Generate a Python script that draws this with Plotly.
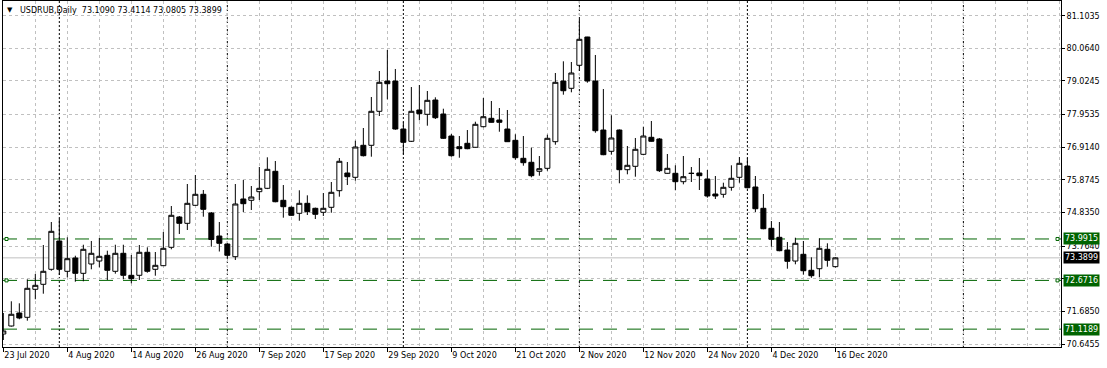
import numpy as np
import pandas as pd
import plotly.graph_objects as go

# ---------------- data ----------------
dates = pd.bdate_range("2020-07-23", "2020-12-16")

opens = [70.964, 71.219, 71.633, 71.496, 72.388, 72.547, 73.025, 73.927, 72.961, 73.385,
         72.897, 73.194, 73.289, 73.471, 72.961, 73.535, 72.834, 72.834, 73.567, 73.025,
         73.140, 73.726, 74.691, 74.490, 75.064, 75.414, 74.819, 74.086, 73.831, 73.427,
         75.265, 75.223, 75.497, 75.605, 76.147, 75.223, 75.000, 74.809, 75.127, 74.968,
         74.841, 75.000, 75.529, 76.093, 75.956, 76.975, 76.975, 78.058, 79.023, 79.023,
         77.494, 77.103, 78.100, 77.962, 78.418, 77.972, 77.271, 76.930, 77.039, 76.912,
         77.568, 77.835, 77.781, 77.494, 77.134, 76.561, 76.434, 76.147, 76.242, 77.090,
         79.023, 78.791, 79.524, 80.425, 79.023, 77.462, 76.784, 77.462, 76.198, 76.306,
         76.688, 77.230, 77.176, 76.083, 76.083, 75.816, 76.083, 76.093, 75.902, 75.424,
         75.414, 75.637, 75.956, 76.316, 75.647, 74.968, 74.331, 74.044, 73.640, 73.289,
         73.503, 72.993, 73.044, 73.662, 73.1090]
highs = [71.633, 72.006, 71.942, 72.706, 72.875, 73.799, 74.532, 74.637, 74.044, 73.458,
         73.808, 73.927, 74.022, 73.618, 73.808, 73.808, 73.481, 73.799, 73.726, 73.576,
         74.214, 75.041, 74.723, 75.742, 76.029, 75.551, 74.850, 74.532, 73.860, 75.742,
         75.870, 75.678, 76.284, 76.593, 76.475, 75.710, 75.030, 75.542, 75.382, 74.990,
         75.455, 75.806, 76.570, 76.443, 77.122, 77.526, 78.514, 79.342, 80.011, 79.406,
         77.708, 78.832, 78.896, 78.705, 78.504, 78.141, 77.335, 77.271, 77.462, 77.727,
         78.482, 78.386, 78.163, 78.100, 77.326, 77.271, 76.899, 76.634, 77.313, 79.278,
         79.651, 79.629, 80.998, 80.430, 79.852, 78.768, 77.931, 77.480, 76.953, 77.208,
         77.568, 77.749, 77.208, 76.698, 76.338, 76.634, 76.284, 76.570, 76.188, 75.997,
         75.784, 76.338, 76.602, 76.561, 75.997, 75.424, 74.563, 74.532, 73.895, 74.031,
         73.927, 73.407, 74.012, 73.853, 73.4114]
lows = [70.773, 71.200, 71.433, 71.388, 72.070, 72.248, 72.980, 72.843, 72.770, 72.630,
        72.643, 73.025, 73.089, 72.684, 72.885, 72.706, 72.579, 72.684, 72.917, 72.821,
        73.131, 73.662, 74.150, 74.277, 75.050, 74.701, 73.745, 73.592, 73.369, 73.321,
        74.850, 74.914, 75.233, 75.580, 75.160, 74.669, 74.730, 74.573, 74.755, 74.627,
        74.723, 74.828, 75.338, 75.710, 75.847, 76.620, 76.612, 77.908, 78.440, 77.470,
        76.688, 77.080, 77.772, 77.600, 77.813, 77.176, 76.612, 76.580, 76.850, 76.900,
        77.549, 77.700, 77.408, 77.080, 76.516, 76.325, 75.956, 76.007, 76.166, 76.994,
        78.587, 78.663, 79.351, 78.969, 77.376, 76.660, 76.676, 75.765, 76.051, 75.975,
        76.660, 77.090, 76.125, 76.070, 75.542, 75.733, 75.806, 75.551, 75.306, 75.265,
        75.306, 75.529, 75.784, 75.600, 74.850, 74.300, 73.745, 73.600, 73.044, 73.184,
        72.853, 72.757, 72.770, 73.108, 73.0805]
closes = [71.060, 71.592, 71.474, 72.420, 72.515, 72.961, 74.235, 73.025, 73.363, 72.897,
          73.662, 73.535, 73.439, 72.993, 73.535, 72.834, 72.726, 73.567, 72.961, 73.152,
          73.694, 74.745, 74.490, 75.127, 75.414, 74.936, 73.974, 73.853, 73.471, 75.105,
          75.115, 75.328, 75.605, 76.210, 75.178, 75.019, 74.745, 75.127, 74.860, 74.777,
          74.968, 75.478, 76.466, 75.975, 76.921, 76.644, 78.058, 78.982, 78.937, 77.494,
          77.071, 78.058, 77.982, 78.408, 77.854, 77.198, 76.644, 76.867, 76.867, 77.644,
          77.886, 77.708, 77.708, 77.090, 76.580, 76.421, 76.007, 76.230, 77.198, 78.982,
          78.714, 79.278, 80.352, 79.023, 77.440, 76.676, 77.208, 76.198, 76.338, 76.848,
          77.271, 77.103, 76.166, 76.242, 75.816, 75.975, 76.080, 76.007, 75.360, 75.360,
          75.637, 75.924, 76.402, 75.624, 74.955, 74.318, 73.981, 73.618, 73.280, 73.853,
          72.980, 72.821, 73.694, 73.312, 73.3899]

level_lines = [73.9915, 72.6716, 71.1189]      # green horizontal lines
anchored_levels = [73.9915, 72.6716]            # lines showing anchor squares
bid_price = 73.3899

y_tick_values = [81.1035, 80.0640, 79.0245, 77.9535, 76.9140, 75.8745, 74.8350,
                 73.7640, 72.7245, 71.6850, 70.6455]
y_tick_labels = ["81.1035", "80.0640", "79.0245", "77.9535", "76.9140", "75.8745",
                 "74.8350", "73.7640", "", "71.6850", "70.6455"]

future_separator_bar = 120
label_step = 8
grid_step = 4

symbol_header = "USDRUB,Daily"

# ---------------- derived ----------------
x = np.arange(len(dates))
label_idx = list(range(0, len(dates), label_step))
label_text = [f"{dates[i].day} {dates[i]:%b %Y}" for i in label_idx]
separators = [i for i in range(1, len(dates)) if dates[i].month != dates[i - 1].month]
separators.append(future_separator_bar)

FONT = "DejaVu Sans"
GREEN = "#006400"
GRID = "#c0c0c0"

fig = go.Figure()
fig.add_trace(go.Candlestick(
    x=x, open=opens, high=highs, low=lows, close=closes,
    increasing=dict(line=dict(color="black", width=1), fillcolor="white"),
    decreasing=dict(line=dict(color="black", width=1), fillcolor="black"),
    whiskerwidth=0, hoverinfo="skip", showlegend=False,
))

shapes = []
for s in separators:
    shapes.append(dict(type="line", xref="x", yref="paper", x0=s, x1=s, y0=0, y1=1,
                       line=dict(color="black", width=1, dash="2px,2px"), layer="between"))
shapes.append(dict(type="line", xref="paper", yref="y", x0=0, x1=1, y0=bid_price, y1=bid_price,
                   line=dict(color=GRID, width=1), layer="between"))
for lv in level_lines:
    shapes.append(dict(type="line", xref="paper", yref="y", x0=0, x1=1, y0=lv, y1=lv,
                       line=dict(color=GREEN, width=1, dash="14px,10px"), layer="between"))
for lv in anchored_levels:
    for xa, off in [(0, 2), (1, -5)]:
        shapes.append(dict(type="rect", xref="paper", yref="y", xsizemode="pixel", ysizemode="pixel",
                           xanchor=xa, yanchor=lv, x0=off, x1=off + 3, y0=-1.5, y1=1.5,
                           line=dict(color=GREEN, width=1), fillcolor="white", layer="above"))

annotations = [
    dict(xref="paper", yref="paper", x=0, y=1, xanchor="left", yanchor="top", xshift=2, yshift=-3,
         text="▼", showarrow=False, font=dict(family=FONT, size=7, color="black")),
    dict(xref="paper", yref="paper", x=0, y=1, xanchor="left", yanchor="top", xshift=15, yshift=-3,
         text=symbol_header + "\u00a0\u00a0" + " ".join(f"{v:.4f}" for v in
              [opens[-1], highs[-1], lows[-1], closes[-1]]),
         showarrow=False, font=dict(family=FONT, size=8, color="black")),
]
for lv in level_lines:
    annotations.append(dict(xref="paper", yref="y", x=1, y=lv, xanchor="left", yanchor="middle",
                            xshift=2, text=f"{lv:.4f}", showarrow=False, bgcolor=GREEN,
                            borderpad=1, font=dict(family=FONT, size=8, color="white")))
annotations.append(dict(xref="paper", yref="y", x=1, y=bid_price, xanchor="left", yanchor="middle",
                        xshift=2, text=f"{bid_price:.4f}", showarrow=False, bgcolor="black",
                        borderpad=1, font=dict(family=FONT, size=8, color="white")))

fig.update_layout(
    width=1107, height=368,
    margin=dict(l=3, r=46, t=1, b=21, pad=0),
    paper_bgcolor="white", plot_bgcolor="white",
    boxgap=0.375, boxgroupgap=0,
    shapes=shapes, annotations=annotations,
    font=dict(family=FONT, size=8, color="black"),
    xaxis=dict(
        range=[-0.04, 132.2], rangeslider=dict(visible=False),
        tickmode="array", tickvals=label_idx, ticktext=label_text,
        ticklabelposition="outside right",
        ticks="outside", ticklen=4, tickcolor="black",
        showgrid=True, gridcolor=GRID, griddash="3px,3px", gridwidth=1,
        minor=dict(tick0=0, dtick=grid_step, showgrid=True, gridcolor=GRID,
                   griddash="3px,3px", gridwidth=1, ticks=""),
        showline=True, linecolor="black", linewidth=1, mirror=True,
        zeroline=False, tickfont=dict(family=FONT, size=8, color="black"),
    ),
    yaxis=dict(
        range=[70.550, 81.572], side="right",
        tickmode="array", tickvals=y_tick_values, ticktext=y_tick_labels,
        ticks="outside", ticklen=3, tickcolor="black",
        showgrid=True, gridcolor=GRID, griddash="3px,3px", gridwidth=1,
        showline=True, linecolor="black", linewidth=1, mirror=True,
        zeroline=False, tickfont=dict(family=FONT, size=8, color="black"),
    ),
)

fig.write_html("out.html")
